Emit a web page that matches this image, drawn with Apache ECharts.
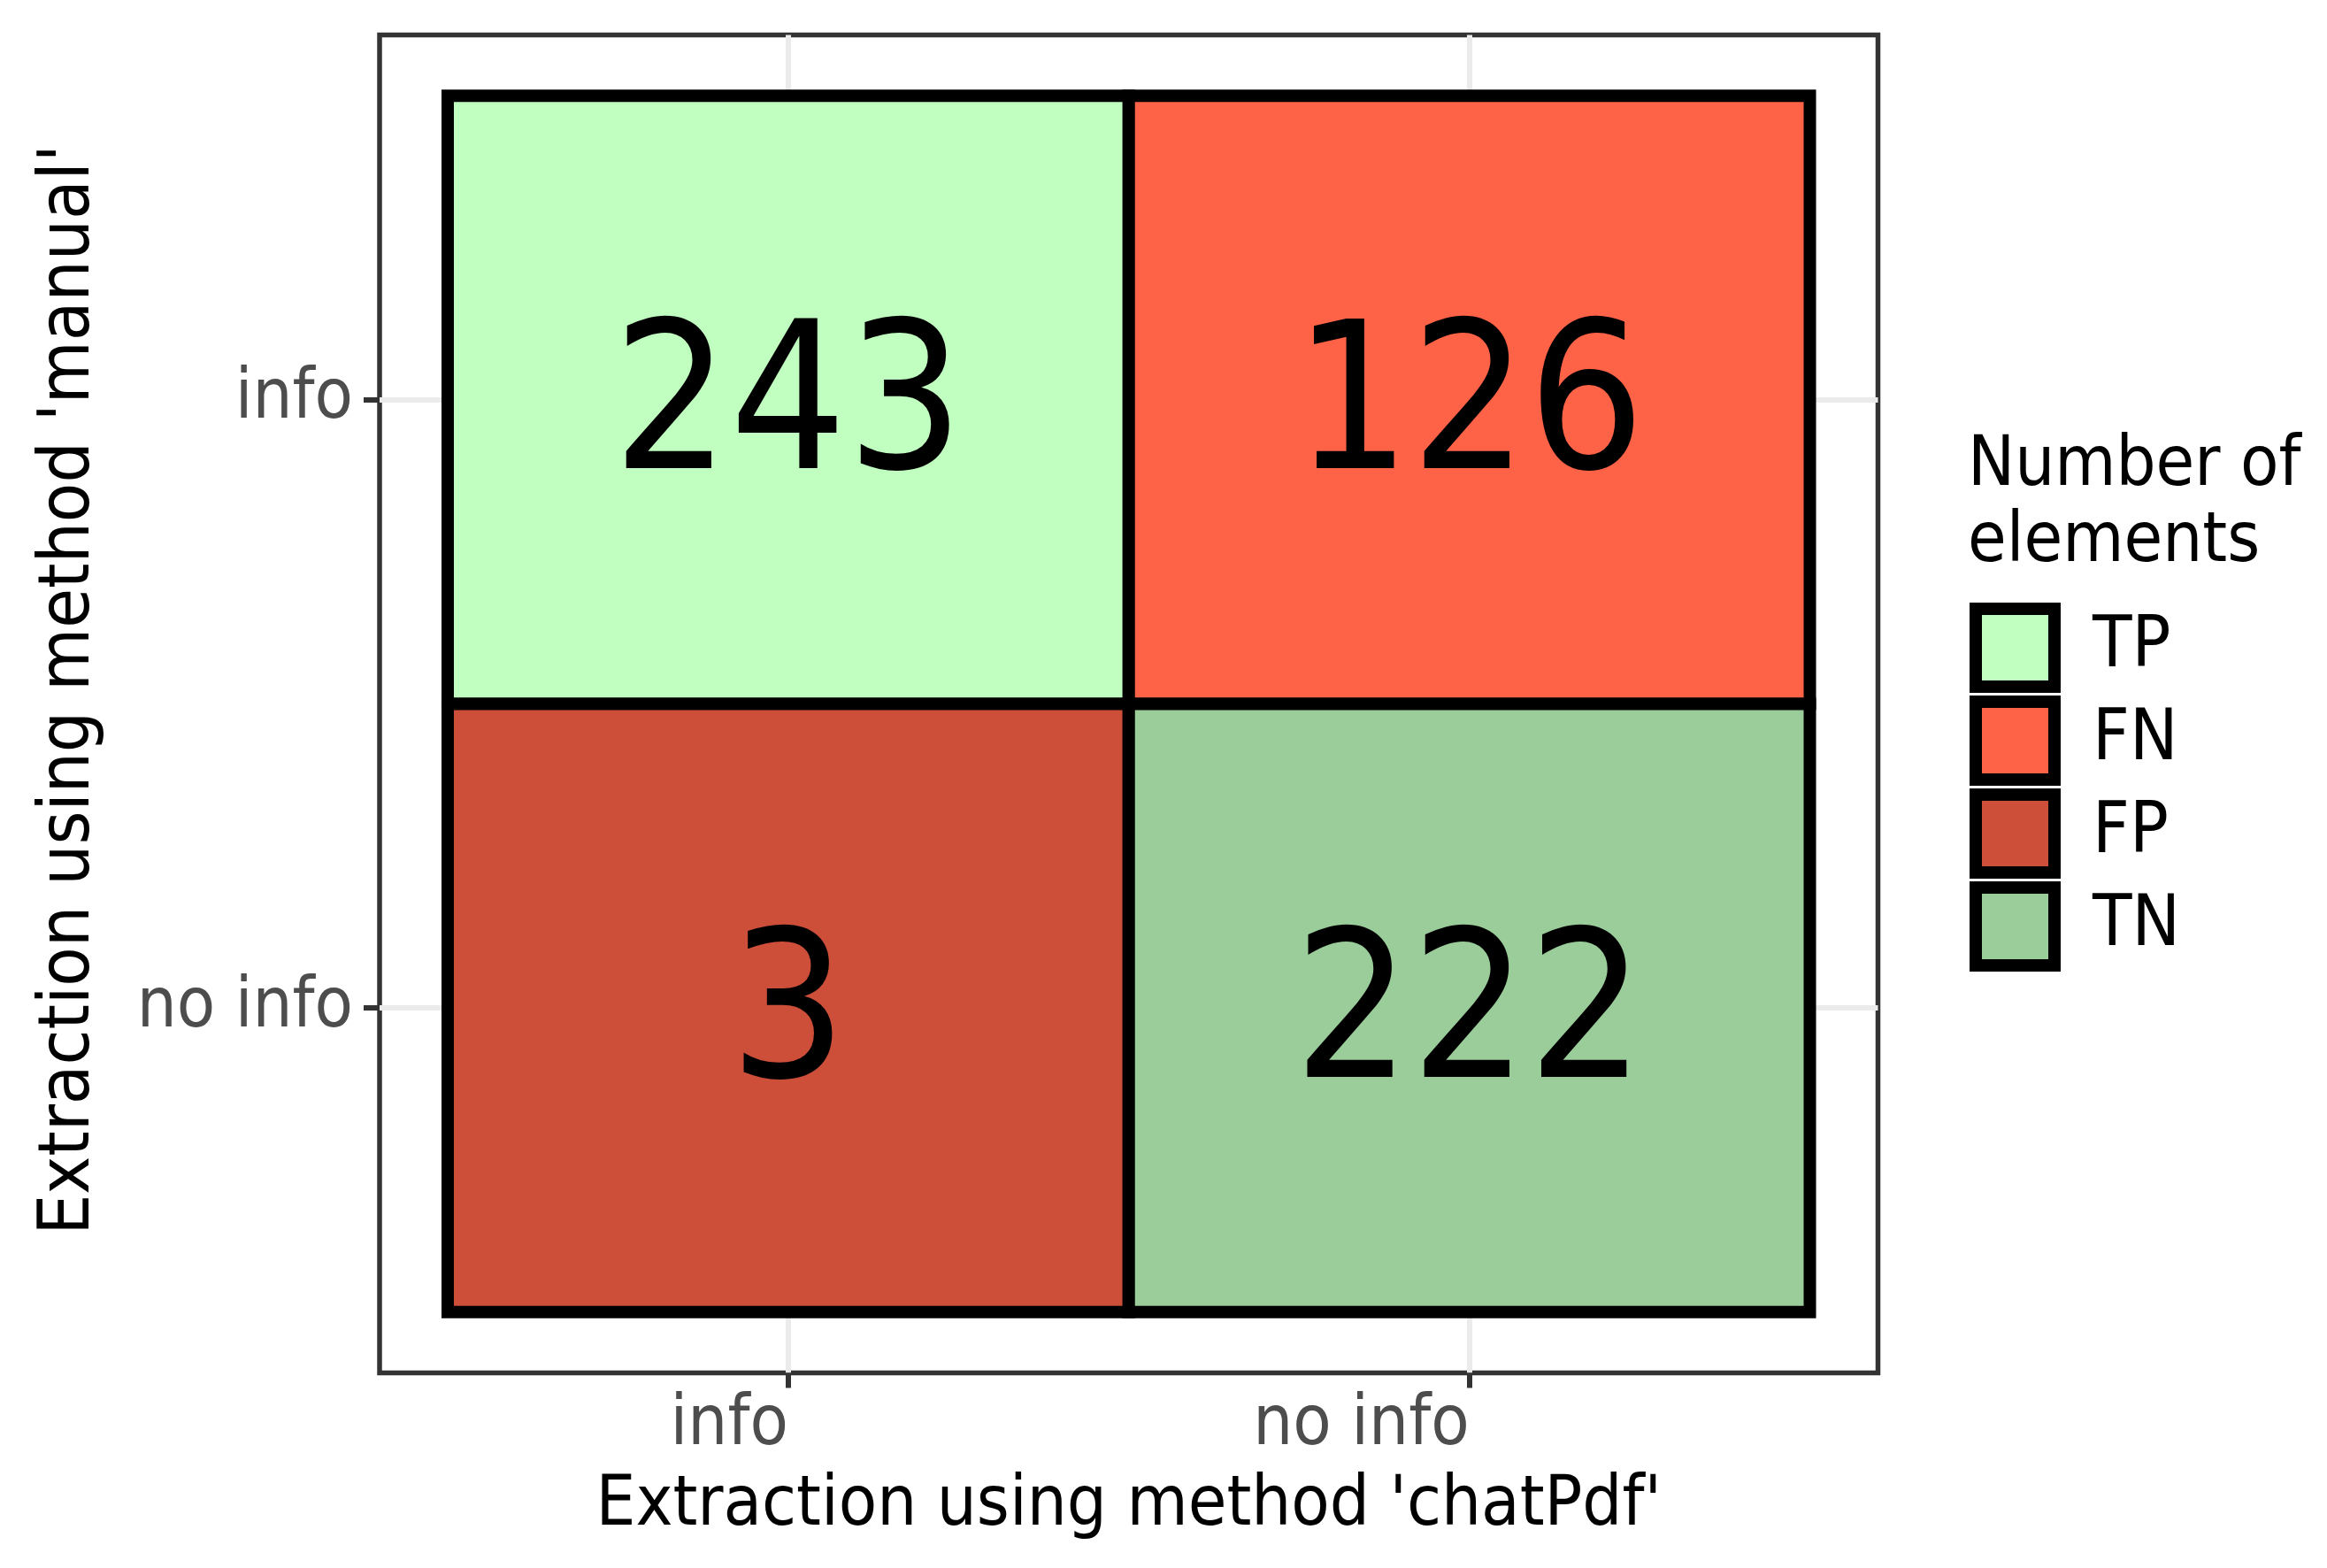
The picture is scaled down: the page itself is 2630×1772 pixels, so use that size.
<!DOCTYPE html>
<html>
<head>
<meta charset="utf-8">
<script src="https://cdn.jsdelivr.net/npm/echarts@6/dist/echarts.min.js"></script>
<style>
  html, body { margin: 0; padding: 0; background: #ffffff; }
  #chart { width: 2630px; height: 1772px; }
</style>
</head>
<body>
<div id="chart"></div>
<script>
// ---- data ----
const xCategories = ['info', 'no info'];          // chatPdf
const yCategories = ['no info', 'info'];          // manual (bottom -> top)
const classNames = ['TP', 'FN', 'FP', 'TN'];
const cellChatPdf = ['info', 'no info', 'info', 'no info'];
const cellManual = ['info', 'info', 'no info', 'no info'];
const counts = [243, 126, 3, 222];
const xTitle = "Extraction using method 'chatPdf'";
const yTitle = "Extraction using method 'manual'";
const legendTitle = 'Number of\nelements';

// ---- styles ----
const classColors = ['#C1FFC1', '#FF6347', '#CD4F39', '#9BCD9B'];
const FONT = "'DejaVu Sans Condensed', 'DejaVu Sans', sans-serif";
const FS = 79;
const NUM_FS = 231;

const chart = echarts.init(document.getElementById('chart'), null, { renderer: 'canvas' });

const tickVals = xCategories.map((c, i) => i + 1);

const series = classNames.map((name, i) => ({
  name: name,
  type: 'custom',
  itemStyle: { color: classColors[i] },
  data: [[xCategories.indexOf(cellChatPdf[i]) + 1, yCategories.indexOf(cellManual[i]) + 1, counts[i]]],
  renderItem: function (params, api) {
    const x = api.value(0), y = api.value(1);
    const p0 = api.coord([x - 0.5, y + 0.5]);
    const p1 = api.coord([x + 0.5, y - 0.5]);
    return {
      type: 'group',
      children: [
        {
          type: 'rect',
          shape: { x: p0[0], y: p0[1], width: p1[0] - p0[0], height: p1[1] - p0[1] },
          style: { fill: api.visual('color'), stroke: '#000000', lineWidth: 14 }
        },
        {
          type: 'text',
          z2: 10,
          style: {
            text: String(api.value(2)),
            x: (p0[0] + p1[0]) / 2,
            y: (p0[1] + p1[1]) / 2 + NUM_FS * 0.076,
            align: 'center',
            verticalAlign: 'middle',
            fontSize: NUM_FS,
            fontFamily: FONT,
            fill: '#000000'
          }
        }
      ]
    };
  }
}));

const option = {
  animation: false,
  backgroundColor: '#ffffff',
  title: {
    text: legendTitle,
    left: 2224,
    top: 484,
    padding: 0,
    textStyle: { fontSize: FS, lineHeight: 86, fontWeight: 'normal', color: '#000000', fontFamily: FONT }
  },
  legend: {
    orient: 'vertical',
    left: 2226,
    top: 681,
    padding: 0,
    itemWidth: 89,
    itemHeight: 88,
    itemGap: 3,
    icon: 'rect',
    itemStyle: { borderColor: '#000000', borderWidth: 14 },
    selectedMode: false,
    data: classNames,
    textStyle: { fontSize: 81, lineHeight: 88, color: '#000000', fontFamily: FONT, padding: [0, 0, 0, 38] }
  },
  grid: {
    left: 429, top: 39.5, width: 1693.5, height: 1512,
    show: true, borderColor: '#333333', borderWidth: 5.5, backgroundColor: '#ffffff',
    containLabel: false
  },
  xAxis: {
    type: 'value',
    min: 0.4, max: 2.6,
    name: xTitle,
    nameLocation: 'middle',
    nameGap: 110,
    nameTextStyle: { fontSize: FS, lineHeight: 81, color: '#000000', fontFamily: FONT },
    axisLine: { show: false },
    axisTick: { show: true, customValues: tickVals, length: 17, lineStyle: { color: '#333333', width: 6 } },
    axisLabel: {
      show: true, customValues: tickVals, margin: 19, align: 'right',
      fontSize: FS, lineHeight: 81, color: '#4D4D4D', fontFamily: FONT,
      formatter: v => xCategories[Math.round(v) - 1] || ''
    },
    splitLine: { show: true, lineStyle: { color: '#EBEBEB', width: 6 } },
    minorSplitLine: { show: false }
  },
  yAxis: {
    type: 'value',
    min: 0.4, max: 2.6,
    name: yTitle,
    nameLocation: 'middle',
    nameGap: 310,
    nameTextStyle: { fontSize: 81, lineHeight: 81, color: '#000000', fontFamily: FONT, padding: [0, 0, 0, 32] },
    axisLine: { show: false },
    axisTick: { show: true, customValues: tickVals, length: 18, lineStyle: { color: '#333333', width: 6 } },
    axisLabel: {
      show: true, customValues: tickVals, margin: 30, padding: [6, 0, 0, 0],
      fontSize: FS, lineHeight: 81, color: '#4D4D4D', fontFamily: FONT,
      formatter: v => yCategories[Math.round(v) - 1] || ''
    },
    splitLine: { show: true, lineStyle: { color: '#EBEBEB', width: 6 } }
  },
  series: series
};

chart.setOption(option);
</script>
</body>
</html>
